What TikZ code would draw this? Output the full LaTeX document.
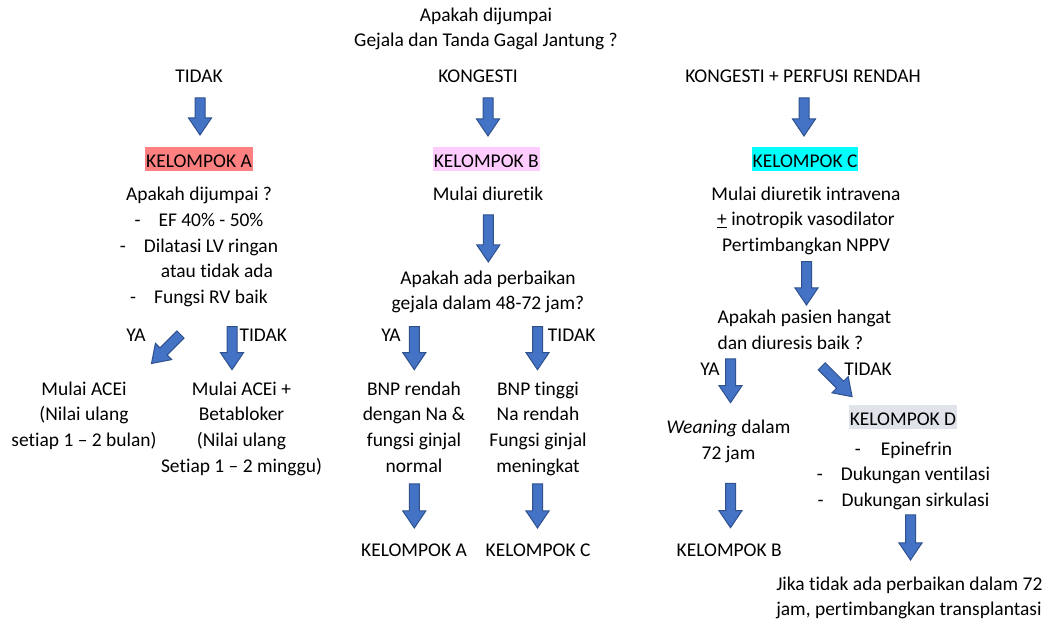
\documentclass[tikz,border=0pt]{standalone}
\usepackage{fontspec}
\setmainfont{Carlito}[Ligatures={NoCommon}]
\definecolor{arrowfill}{HTML}{4472C4}
\definecolor{arrowedge}{HTML}{2F528F}
\definecolor{groupA}{HTML}{FF8080}
\definecolor{groupB}{HTML}{FFCCFF}
\definecolor{groupC}{HTML}{00FFFF}
\definecolor{groupD}{HTML}{E0E3EA}
\newcommand\bodyfont{\fontsize{14.6}{19.2}\selectfont}
\newcommand\gap{\hspace{13.5pt}}
\begin{document}
\begin{tikzpicture}[x=0.75pt,y=-0.75pt,
  line/.style={font=\bodyfont,inner sep=0pt,anchor=base},
  block/.style={font=\bodyfont,inner sep=0pt,align=center,anchor=north},
  leftblock/.style={font=\bodyfont,inner sep=0pt,align=left,anchor=north west},
  group/.style={font=\bodyfont,inner ysep=0pt,inner xsep=0.75pt,anchor=base,
    text height=16pt,text depth=2.55pt,fill=#1},
  pics/barrow/.style={code={
    \filldraw[fill=arrowfill,draw=arrowedge,line width=0.75pt,line join=miter]
      (0,-5) -- ({#1-17},-5) -- ({#1-17},-11.5) -- (#1,0)
      -- ({#1-17},11.5) -- ({#1-17},5) -- (0,5) -- cycle;}}]
\useasboundingbox (0,0) rectangle (1051,620);

% question and the three branches
\node[block] (title) at (486,3.1) {\strut Apakah dijumpai\\Gejala dan Tanda Gagal Jantung ?};
\node[line] (tTidak) at (199,83) {TIDAK};
\node[line] (tKong) at (478,83) {KONGESTI};
\node[line] (tKP) at (803,83) {KONGESTI + PERFUSI RENDAH};
\pic (arTop1) [rotate=-90] at (200,98) {barrow=37};
\pic (arTop2) [rotate=-90] at (488,98) {barrow=38};
\pic (arTop3) [rotate=-90] at (804,98) {barrow=38};

% group A
\node[group=groupA] (kA) at (199,168) {KELOMPOK A};
\node[block] (qA) at (199,182.8) {\strut Apakah dijumpai ?\\
  -\gap EF 40\% - 50\%\\
  -\gap Dilatasi LV ringan\\
  \hspace*{27pt}atau tidak ada\\
  -\gap Fungsi RV baik};
\pic (arAya) [rotate=-135] at (180.5,334.5) {barrow=41};
\pic (arAtdk) [rotate=-90] at (232,326.7) {barrow=43};
\node[line] (lYaA) at (136,342) {YA};
\node[line] (lTdkA) at (263.3,342) {TIDAK};
\node[block] (rA1) at (84,377.1) {\strut Mulai ACEi\\(Nilai ulang\\setiap 1 – 2 bulan)};
\node[block] (rA2) at (241.5,377.1) {\strut Mulai ACEi +\\Betabloker\\(Nilai ulang\\Setiap 1 – 2 minggu)};

% group B
\node[group=groupB] (kB) at (486.3,168) {KELOMPOK B};
\node[line] (dB) at (488,200.7) {Mulai diuretik};
\pic (arB1) [rotate=-90] at (488.3,215) {barrow=47};
\node[block] (qB) at (488,266.1) {\strut Apakah ada perbaikan\\gejala dalam 48-72 jam?};
\pic (arBya) [rotate=-90] at (414.3,326.7) {barrow=43};
\pic (arBtdk) [rotate=-90] at (537.5,326.7) {barrow=43};
\node[line] (lYaB) at (391,341.7) {YA};
\node[line] (lTdkB) at (571.7,341.7) {TIDAK};
\node[block] (rB1) at (414,377.1) {\strut BNP rendah\\dengan Na \&\\fungsi ginjal\\normal};
\node[block] (rB2) at (538,377.1) {\strut BNP tinggi\\Na rendah\\Fungsi ginjal\\meningkat};
\pic (arB2) [rotate=-90] at (414.3,484) {barrow=44};
\pic (arB3) [rotate=-90] at (537.5,484) {barrow=44};
\node[line] (toA) at (414,556.7) {KELOMPOK A};
\node[line] (toC) at (538,556.7) {KELOMPOK C};

% group C
\node[group=groupC] (kC) at (805,168) {KELOMPOK C};
\node[block] (dC) at (806,182.1) {\strut Mulai diuretik intravena\\
  \underline{+} inotropik vasodilator\\Pertimbangkan NPPV};
\pic (arC1) [rotate=-90] at (806.5,261.7) {barrow=43.3};
\node[leftblock] (qC) at (717.3,305.4) {\strut Apakah pasien hangat\\dan diuresis baik ?};
\pic (arCya) [rotate=-90] at (730.5,359) {barrow=43.7};
\pic (arCtdk) [rotate=-45] at (821.7,366.3) {barrow=43};
\node[line] (lYaC) at (710,376) {YA};
\node[line,anchor=base west] (lTdkC) at (844,376) {TIDAK};
\node[block] (wC) at (728.5,415.4) {\strut\textit{Weaning} dalam\\72 jam};
\pic (arC2) [rotate=-90] at (730.5,483.3) {barrow=44.4};
\node[line] (toB) at (729.2,556.7) {KELOMPOK B};

% group D
\node[group=groupD] (kD) at (903,426) {KELOMPOK D};
\node[block] (lD) at (903.5,437.1) {\strut -\hspace{15pt}Epinefrin\\
  -\gap Dukungan ventilasi\\
  -\gap Dukungan sirkulasi};
\pic (arD) [rotate=-90] at (910.5,515) {barrow=45};
\node[leftblock] (tx) at (776,572.1) {\strut Jika tidak ada perbaikan dalam 72\\jam, pertimbangkan transplantasi};
\end{tikzpicture}
\end{document}
